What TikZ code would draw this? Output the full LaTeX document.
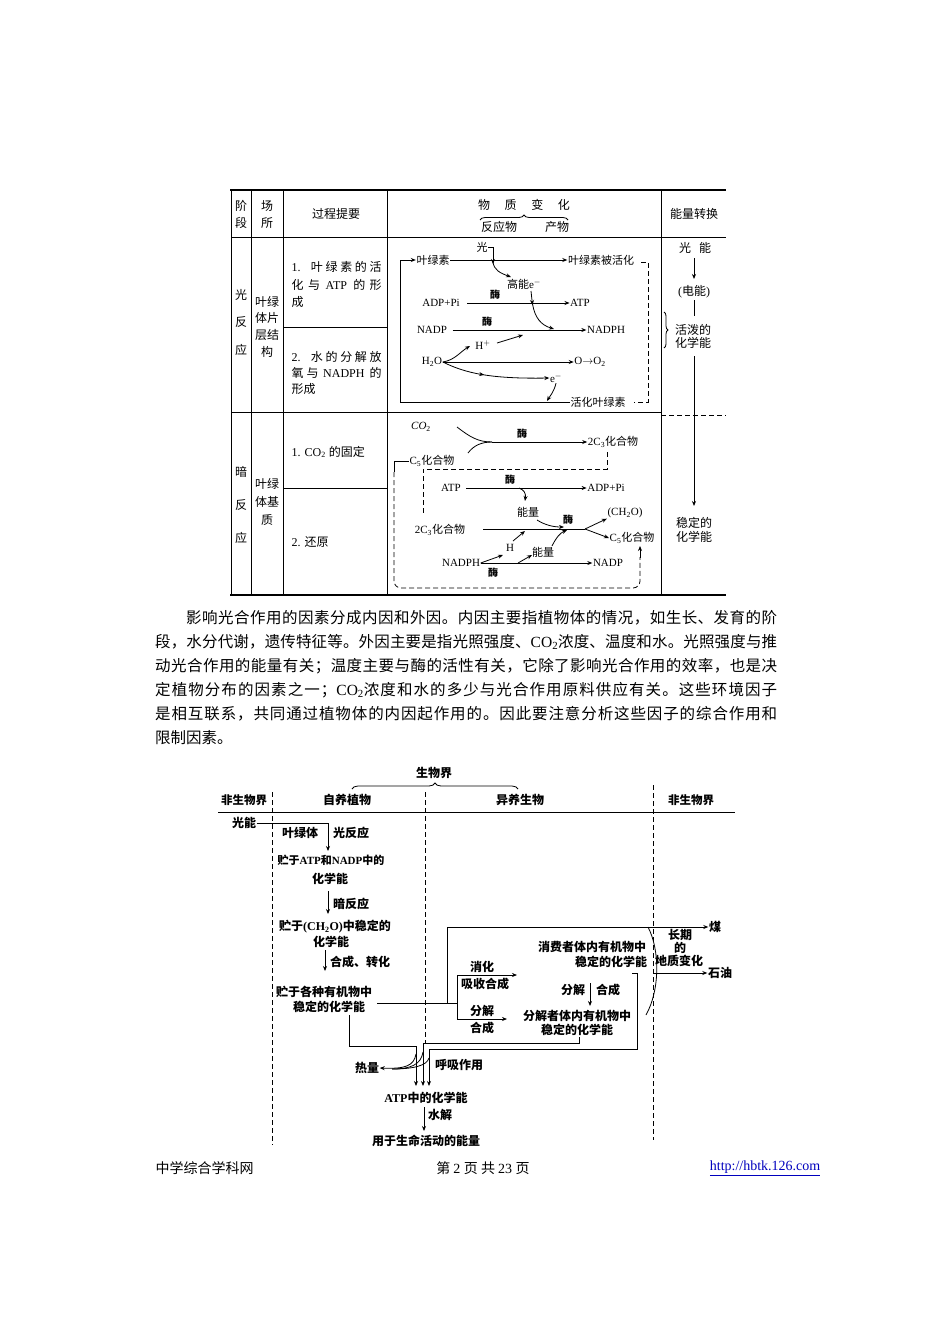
\documentclass[tikz,border=0pt]{standalone}
\usepackage{fontspec}
\setmainfont{Liberation Serif}
\newfontfamily\zh{Noto Sans CJK SC}
\usetikzlibrary{arrows.meta,decorations.pathreplacing,decorations.markings}
\XeTeXinterchartokenstate=1
\newXeTeXintercharclass\zhclass
\makeatletter
\def\setzhrange#1#2{\count@=#1\relax\loop\XeTeXcharclass\count@=\zhclass\advance\count@\@ne\ifnum\count@<#2\relax\repeat}
\setzhrange{"3000}{"3040}
\setzhrange{"4E00}{"A000}
\setzhrange{"FF00}{"FFF0}
\makeatother
\XeTeXinterchartoks 0 \zhclass = {\zh}
\XeTeXinterchartoks 4095 \zhclass = {\zh}
\XeTeXinterchartoks \zhclass 0 = {\rmfamily}
\XeTeXinterchartoks 4095 0 = {\rmfamily}
\XeTeXinterchartoks \zhclass \zhclass = {\hskip0pt plus 2pt\relax}
\begin{document}
\begin{tikzpicture}[x=1pt,y=-1pt,
  every node/.style={inner sep=0.5pt, font=\fontsize{11}{13}\selectfont},
  ln/.style={line width=0.8pt},
  arr/.style={line width=0.8pt,-{Stealth[length=5pt,width=4pt]}},
  dsh/.style={line width=0.8pt, dash pattern=on 5pt off 3pt},
  tb/.style={font=\fontsize{12}{14}\selectfont},
  sm/.style={font=\fontsize{10}{12}\selectfont\bfseries},
  bd/.style={font=\fontsize{12}{14}\selectfont\bfseries},
  pg/.style={font=\fontsize{15.5}{24}\selectfont, anchor=west, inner sep=0pt},
  mk/.style={postaction={decorate,decoration={markings,mark=at position #1 with {\arrow{Stealth[length=5pt,width=4pt]}}}}},
]
\useasboundingbox (0,0) rectangle (950,1344);
\fill[white] (0,0) rectangle (950,1344);

% ---------------- table frame ----------------
\draw[line width=1.6pt] (230,190) -- (726,190);
\draw[line width=1.6pt] (230,595) -- (726,595);
\draw[ln] (231,237) -- (726,237);
\foreach \x in {231,251,283,387,661} \draw[ln] (\x,190) -- (\x,595);
\draw[ln] (231,412) -- (661,412);
\draw[dsh] (661,415) -- (726,415);
\draw[ln] (283,327) -- (387,327);
\draw[ln] (283,488) -- (387,488);

% header
\node[tb] (h1a) at (241,206) {阶};
\node[tb] (h1b) at (241,223) {段};
\node[tb] (h2a) at (267,206) {场};
\node[tb] (h2b) at (267,223) {所};
\node[tb] (h3) at (336,214) {过程提要};
\node[tb] (h4) at (524,205) {\makebox[92pt][s]{物质变化}};
\draw[ln, decorate, decoration={brace, amplitude=5pt}] (480,220) -- (568,220);
\node[tb] (h4a) at (499,227) {反应物};
\node[tb] (h4b) at (557,227) {产物};
\node[tb] (h5) at (694,214) {能量转换};

% stage / site columns
\node[tb] (s1) at (241,295) {光};
\node[tb] (s2) at (241,322) {反};
\node[tb] (s3) at (241,350) {应};
\node[tb] (p1) at (267,302) {叶绿};
\node[tb] (p2) at (267,318) {体片};
\node[tb] (p3) at (267,335) {层结};
\node[tb] (p4) at (267,352) {构};
\node[tb] (s4) at (241,472) {暗};
\node[tb] (s5) at (241,505) {反};
\node[tb] (s6) at (241,538) {应};
\node[tb] (p5) at (267,484) {叶绿};
\node[tb] (p6) at (267,502) {体基};
\node[tb] (p7) at (267,520) {质};

% process column
\node[tb,anchor=west] (q1) at (291,267) {\makebox[90pt][s]{1. 叶绿素的活}};
\node[tb,anchor=west] (q2) at (291,285) {\makebox[90pt][s]{化与 ATP 的形}};
\node[tb,anchor=west] (q3) at (291,302) {成};
\node[tb,anchor=west] (q4) at (291,357) {\makebox[90pt][s]{2. 水的分解放}};
\node[tb,anchor=west] (q5) at (291,373) {\makebox[90pt][s]{氧与 NADPH 的}};
\node[tb,anchor=west] (q6) at (291,389) {形成};
\node[tb,anchor=west] (q7) at (291,452) {1. CO\textsubscript{2} 的固定};
\node[tb,anchor=west] (q8) at (291,542) {2. 还原};

% energy column
\node[tb] (e1) at (695,248) {光\hspace{8pt}能};
\draw[arr] (694,258) -- (694,279);
\node[tb] (e2) at (694,292) {(电能)};
\draw[ln] (694,300) -- (694,316);
\draw[ln, decorate, decoration={brace, amplitude=4pt}] (664,312) -- (664,348);
\node[tb] (e3) at (693,330) {活泼的};
\node[tb] (e4) at (693,343) {化学能};
\draw[arr] (694,356) -- (694,506);
\node[tb] (e5) at (694,523) {稳定的};
\node[tb] (e6) at (694,537) {化学能};

% ---------------- light reaction ----------------
\node (lz) at (433,260) {叶绿素};
\node (lzh) at (601,260) {叶绿素被活化};
\draw[arr] (lz.east) -- (lzh.west);
\node (hlz) at (598,402) {活化叶绿素};
\draw[arr] (hlz.west) -- (400,402) -- (400,260) -- (lz.west);
\draw[dsh] (641,262) -- (648,262) -- (648,402) -- (634,402);
\node (guang) at (482,247) {光};
\draw[arr] (guang.east) -- (493,247) -- (493,264);
\draw[arr] (493,262) .. controls (494,270) and (500,273) .. (511,277);
\node (gn) at (524,284) {高能e$^-$};
\node (adp) at (441,303) {ADP+Pi};
\node (atp) at (580,303) {ATP};
\draw[arr] ([xshift=7pt]adp.east) -- (atp.west);
\node[sm] (m1) at (495,295) {酶};
\node (nadp) at (432,330) {NADP};
\node (nadph) at (606,330) {NADPH};
\draw[arr] ([xshift=5pt]nadp.east) -- (nadph.west);
\node[sm] (m2) at (487,322) {酶};
\draw[arr] (531,291) -- (532.5,305);
\draw[arr] (532.5,304) .. controls (535,318) and (541,325) .. (554,329);
\node (hp) at (483,345) {H$^+$};
\draw[arr] (497,343) -- (523,335);
\node (h2o) at (432,362) {H\textsubscript{2}O};
\node (oo) at (590,362) {O$\to$O\textsubscript{2}};
\node (el) at (556,378) {e$^-$};
\draw[arr] (h2o.east) .. controls (455,360) and (460,352) .. (470,346);
\draw[arr] (h2o.east) -- (oo.west);
\draw[arr, mk=0.4] (h2o.east) .. controls (465,373) and (490,379) .. (el.west);
\draw[arr] (el.south) .. controls (554,392) and (550,396) .. (547,401);

% ---------------- dark reaction ----------------
\node (co2) at (421,427) {\textit{CO}\textsubscript{2}};
\node (c3a) at (613,442) {2C\textsubscript{3}化合物};
\coordinate (jn) at (492,442);
\draw[ln] (457,427) .. controls (470,437) and (478,442) .. (jn);
\draw[ln] (468,453) .. controls (474,445) and (482,442) .. (jn);
\draw[arr] (jn) -- (c3a.west);
\node[sm] (m3) at (522,434) {酶};
\node (c5a) at (432,461) {C\textsubscript{5}化合物};
\draw[ln] (c5a.west) -- (394,461) -- (394,472);
\draw[dsh, rounded corners=7pt] (394,472) -- (394,588) -- (640,588) -- (640,557);
\draw[arr] (640,558) -- (640,546);
\draw[dsh] (607,452) -- (607,469) -- (423,469) -- (423,513);
\node (atp2) at (451,488) {ATP};
\node (adp2) at (606,488) {ADP+Pi};
\draw[arr] ([xshift=5pt]atp2.east) -- (adp2.west);
\node[sm] (m4) at (510,480) {酶};
\draw[arr] (519,488) .. controls (524,490) and (526,493) .. (525,501);
\node (nl1) at (528,512) {能量};
\node (c3b) at (440,530) {2C\textsubscript{3}化合物};
\coordinate (j2) at (585,529);
\draw[ln] (483,529) -- (j2);
\node (ch2o) at (625,513) {(CH\textsubscript{2}O)};
\node (c5b) at (632,538) {C\textsubscript{5}化合物};
\draw[arr] (j2) -- (ch2o.south west);
\draw[arr] (j2) -- (c5b.west);
\node[sm] (m5) at (568,520) {酶};
\draw[arr] (537,520) .. controls (545,525) and (553,527) .. (564,527);
\node (hh) at (510,548) {H};
\draw[arr] (513,541) -- (525,531);
\node (nadph2) at (461,563) {NADPH};
\node (nadp2) at (608,563) {NADP};
\draw[arr] (nadph2.east) -- (nadp2.west);
\node[sm] (m6) at (493,573) {酶};
\draw[arr] (nadph2.east) -- (503,555);
\draw[arr] (518,563) -- (532,555);
\node (nl2) at (543,552) {能量};
\draw[arr] (552,546) .. controls (556,538) and (560,533) .. (567,530);

% ---------------- paragraph ----------------
\node[pg] (t1) at (155,618) {\makebox[622pt][s]{\hspace*{31pt}影响光合作用的因素分成内因和外因。内因主要指植物体的情况，如生长、发育的阶}};
\node[pg] (t2) at (155,642) {\makebox[622pt][s]{段，水分代谢，遗传特征等。外因主要是指光照强度、CO\textsubscript{2}浓度、温度和水。光照强度与推}};
\node[pg] (t3) at (155,666) {\makebox[622pt][s]{动光合作用的能量有关；温度主要与酶的活性有关，它除了影响光合作用的效率，也是决}};
\node[pg] (t4) at (155,690) {\makebox[622pt][s]{定植物分布的因素之一；CO\textsubscript{2}浓度和水的多少与光合作用原料供应有关。这些环境因子}};
\node[pg] (t5) at (155,714) {\makebox[622pt][s]{是相互联系，共同通过植物体的内因起作用的。因此要注意分析这些因子的综合作用和}};
\node[pg] (t6) at (155,738) {限制因素。};

% ---------------- bottom diagram ----------------
\node[bd] (sw) at (434,773) {生物界};
\draw[ln, decorate, decoration={brace, amplitude=6pt}] (352,789) -- (518,789);
\node[bd, font=\fontsize{11.5}{14}\selectfont\bfseries] (fs1) at (244,800) {非生物界};
\node[bd] (zy) at (347,800) {自养植物};
\node[bd] (yy) at (520,800) {异养生物};
\node[bd, font=\fontsize{11.5}{14}\selectfont\bfseries] (fs2) at (691,800) {非生物界};
\draw[ln] (218,812) -- (735,812);
\draw[dsh] (272,792) -- (272,1145);
\draw[dsh] (425,792) -- (425,1043);
\draw[dsh] (653,785) -- (653,1140);

\node[bd] (gn3) at (244,823) {光能};
\draw[arr] (gn3.east) -- (328,823) -- (328,851);
\node[bd] (ylt) at (300,833) {叶绿体};
\node[bd] (gfy) at (351,833) {光反应};
\node[bd, font=\fontsize{11}{14}\selectfont\bfseries] (b1) at (331,860) {贮于ATP和NADP中的};
\node[bd] (b1b) at (330,879) {化学能};
\draw[arr] (328,891) -- (328,914);
\node[bd] (afy) at (351,904) {暗反应};
\node[bd] (b2) at (335,927) {贮于(CH\textsubscript{2}O)中稳定的};
\node[bd] (b2b) at (331,942) {化学能};
\draw[arr] (325,950) -- (325,971);
\node[bd] (hz) at (360,962) {合成、转化};
\node[bd] (b3) at (324,992) {贮于各种有机物中};
\node[bd] (b3b) at (329,1007) {稳定的化学能};
\draw[ln] (377,1003) -- (457,1003);
\node[bd] (mei) at (715,927) {煤};
\draw[arr] (447,1003) -- (447,927) -- (mei.west);
\draw[arr] (457,1019) -- (457,975) -- (517,975);
\draw[arr] (457,1019) -- (507,1019);
\node[bd] (xh) at (482,967) {消化};
\node[bd] (xs) at (485,984) {吸收合成};
\node[bd] (fj) at (482,1011) {分解};
\node[bd] (hc) at (482,1028) {合成};
\node[bd] (xf1) at (592,947) {消费者体内有机物中};
\node[bd] (xf2) at (611,962) {稳定的化学能};
\node[bd] (fj2) at (573,990) {分解};
\draw[arr] (590,983) -- (590,1006);
\node[bd] (hc2) at (608,990) {合成};
\node[bd] (fz1) at (577,1016) {分解者体内有机物中};
\node[bd] (fz2) at (577,1030) {稳定的化学能};
\draw[ln] (648,927) .. controls (660,950) and (660,990) .. (646,1015);
\node[bd] (cq1) at (680,935) {长期};
\node[bd] (cq2) at (680,948) {的};
\node[bd] (cq3) at (679,961) {地质变化};
\node[bd] (sy) at (720,973) {石油};
\draw[arr] (654,973) -- (sy.west);

\draw[arr] (349,1015) -- (349,1046) -- (416,1046) -- (416,1086);
\draw[arr] (579,1037) -- (579,1043) -- (423,1043) -- (423,1086);
\draw[arr] (632,973) -- (637,973) -- (637,1049) -- (429,1049) -- (429,1086);
\node[bd] (rl) at (367,1068) {热量};
\draw[arr] (416,1054) .. controls (414,1066) and (405,1069) .. (rl.east);
\draw[ln] (423,1052) .. controls (421,1065) and (410,1069) .. (392,1069);
\draw[ln] (429,1058) .. controls (427,1066) and (412,1069) .. (392,1069);
\node[bd] (hx) at (459,1065) {呼吸作用};
\node[bd] (atp3) at (426,1098) {ATP中的化学能};
\draw[arr] (424,1107) -- (424,1131);
\node[bd] (sj) at (440,1115) {水解};
\node[bd] (yy2) at (426,1141) {用于生命活动的能量};

% ---------------- footer ----------------
\node[font=\fontsize{14}{16}\selectfont, anchor=west] (f1) at (155,1168) {中学综合学科网};
\node[font=\fontsize{14}{16}\selectfont] (f2) at (483,1168) {第 2 页 共 23 页};
\node[font=\fontsize{14}{16}\selectfont, anchor=east, text={rgb,255:red,0;green,0;blue,190}] (f3) at (821,1168) {\underline{http://hbtk.126.com}};
\end{tikzpicture}
\end{document}
